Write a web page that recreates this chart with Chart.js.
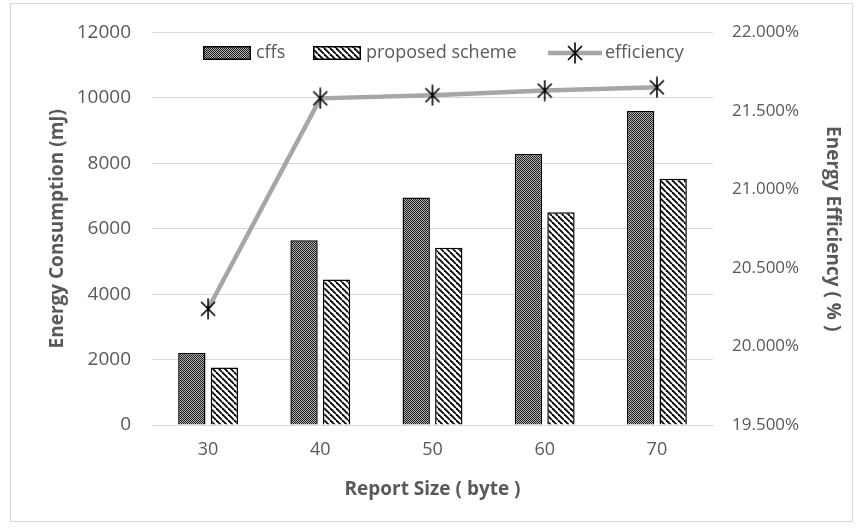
<!DOCTYPE html>
<html><head><meta charset="utf-8">
<script src="https://cdn.jsdelivr.net/npm/chart.js@4/dist/chart.umd.min.js"></script>
<style>html,body{margin:0;padding:0;background:#fff;}#wrap{width:863px;height:531px;}</style>
</head><body><div id="wrap"><canvas id="c" width="863" height="531"></canvas></div>
<script>
// ---- data ----
const categories = ['30', '40', '50', '60', '70'];
const cffsValues = [2200, 5650, 6950, 8280, 9600];
const proposedValues = [1760, 4450, 5420, 6500, 7530];
const efficiencyValues = [20.24, 21.58, 21.60, 21.63, 21.65];
const leftTickValues = [0, 2000, 4000, 6000, 8000, 10000, 12000];
const rightTickValues = [19.5, 20.0, 20.5, 21.0, 21.5, 22.0];
const seriesNames = ['cffs', 'proposed scheme', 'efficiency'];
const xTitle = 'Report Size ( byte )';
const yTitle = 'Energy Consumption (mJ)';
const y1Title = 'Energy Efficiency ( % )';

// ---- styles ----
const FONT = '"Open Sans", "DejaVu Sans", sans-serif';
const TXT = '#595959';
const GRID = '#d9d9d9';

function makeDotPattern() {
  const c = document.createElement('canvas'); c.width = 2; c.height = 2;
  const x = c.getContext('2d');
  x.fillStyle = '#b0b0b0'; x.fillRect(0, 0, 2, 2);
  x.fillStyle = '#1e1e1e'; x.fillRect(0, 0, 1, 1); x.fillRect(1, 1, 1, 1);
  return x.createPattern(c, 'repeat');
}
function makeStripePattern() {
  const s = 6;
  const c = document.createElement('canvas'); c.width = s; c.height = s;
  const x = c.getContext('2d');
  x.fillStyle = '#ffffff'; x.fillRect(0, 0, s, s);
  x.strokeStyle = '#000000'; x.lineWidth = 1.8;
  [-s, 0, s].forEach(ox => {
    x.beginPath(); x.moveTo(ox, 0); x.lineTo(ox + s, s); x.stroke();
  });
  return x.createPattern(c, 'repeat');
}
function makeStar() {
  const c = document.createElement('canvas'); c.width = 20; c.height = 22;
  const x = c.getContext('2d');
  x.strokeStyle = '#000'; x.lineWidth = 1.6; x.lineCap = 'butt';
  x.beginPath();
  x.moveTo(3, 4); x.lineTo(17, 18);
  x.moveTo(17, 4); x.lineTo(3, 18);
  x.moveTo(10, 0.5); x.lineTo(10, 21.5);
  x.stroke();
  return c;
}
const dotPat = makeDotPattern();
const stripePat = makeStripePattern();
const starImg = makeStar();

const framePlugin = {
  id: 'frame',
  beforeDraw(chart) {
    const ctx = chart.ctx;
    ctx.save();
    ctx.fillStyle = '#fff'; ctx.fillRect(0, 0, chart.width, chart.height);
    ctx.strokeStyle = GRID; ctx.lineWidth = 1;
    ctx.strokeRect(10.5, 3.5, 842, 518);
    ctx.restore();
  }
};

const legendPlugin = {
  id: 'customLegend',
  afterDraw(chart) {
    const ctx = chart.ctx;
    const cy = 53;
    ctx.save();
    ctx.font = '18px ' + FONT;
    ctx.textBaseline = 'middle';
    ctx.textAlign = 'left';
    const items = [
      { x: 203, fill: dotPat, label: seriesNames[0] },
      { x: 313, fill: stripePat, label: seriesNames[1] }
    ];
    items.forEach(it => {
      ctx.fillStyle = it.fill;
      ctx.fillRect(it.x, cy - 7, 48, 14);
      ctx.strokeStyle = '#000'; ctx.lineWidth = 1.5;
      ctx.strokeRect(it.x + 0.75, cy - 6.25, 46.5, 12.5);
      ctx.fillStyle = TXT;
      ctx.fillText(it.label, it.x + 53, cy);
    });
    ctx.strokeStyle = '#a6a6a6'; ctx.lineWidth = 4.5;
    ctx.beginPath(); ctx.moveTo(548, cy); ctx.lineTo(602, cy); ctx.stroke();
    ctx.drawImage(starImg, 575 - 10, cy - 11);
    ctx.fillStyle = TXT;
    ctx.fillText(seriesNames[2], 605, cy);
    ctx.restore();
  }
};

new Chart(document.getElementById('c'), {
  type: 'bar',
  data: {
    labels: categories,
    datasets: [
      {
        type: 'line', label: seriesNames[2], data: efficiencyValues, yAxisID: 'y1',
        borderColor: '#a6a6a6', borderWidth: 4.5, tension: 0, fill: false,
        pointStyle: starImg, pointRadius: 10, pointHoverRadius: 10, order: 0
      },
      {
        label: seriesNames[0], data: cffsValues, yAxisID: 'y',
        backgroundColor: dotPat, borderColor: '#000', borderWidth: 1.5,
        categoryPercentage: 0.58, barPercentage: 0.84, order: 1
      },
      {
        label: seriesNames[1], data: proposedValues, yAxisID: 'y',
        backgroundColor: stripePat, borderColor: '#000', borderWidth: 1.5,
        categoryPercentage: 0.58, barPercentage: 0.84, order: 1
      }
    ]
  },
  options: {
    responsive: false,
    devicePixelRatio: 1,
    animation: false,
    layout: { padding: { top: 28, left: 0, right: 0, bottom: 0 } },
    plugins: { legend: { display: false }, tooltip: { enabled: false } },
    scales: {
      x: {
        grid: { display: false, drawTicks: false },
        border: { display: true, color: GRID, width: 1 },
        ticks: { color: TXT, font: { family: FONT, size: 18 }, padding: 14 },
        title: { display: true, text: xTitle, color: TXT, font: { family: FONT, size: 19, weight: 'bold' }, padding: { top: 0, bottom: 29.6 } },
        afterFit: s => { s.height = 106; }
      },
      y: {
        position: 'left', min: 0, max: 12000,
        grid: { color: GRID, drawTicks: false, lineWidth: 1 },
        border: { display: false },
        ticks: { color: TXT, font: { family: FONT, size: 19 }, padding: 21, callback: v => String(v) },
        afterBuildTicks: s => { s.ticks = leftTickValues.map(v => ({ value: v })); },
        title: { display: true, text: yTitle, color: TXT, font: { family: FONT, size: 19, weight: 'bold' }, padding: { top: 46.6, bottom: 0 } },
        afterFit: s => { s.width = 152; }
      },
      y1: {
        position: 'right', min: 19.5, max: 22,
        grid: { display: false, drawTicks: false },
        border: { display: false },
        ticks: { color: TXT, font: { family: FONT, size: 17 }, padding: 19, callback: v => Number(v).toFixed(3) + '%' },
        afterBuildTicks: s => { s.ticks = rightTickValues.map(v => ({ value: v })); },
        title: { display: true, text: y1Title, color: TXT, font: { family: FONT, size: 19, weight: 'bold' }, padding: { top: 19.6, bottom: 0 } },
        afterFit: s => { s.width = 150; }
      }
    }
  },
  plugins: [framePlugin, legendPlugin]
});
</script>
</body></html>
